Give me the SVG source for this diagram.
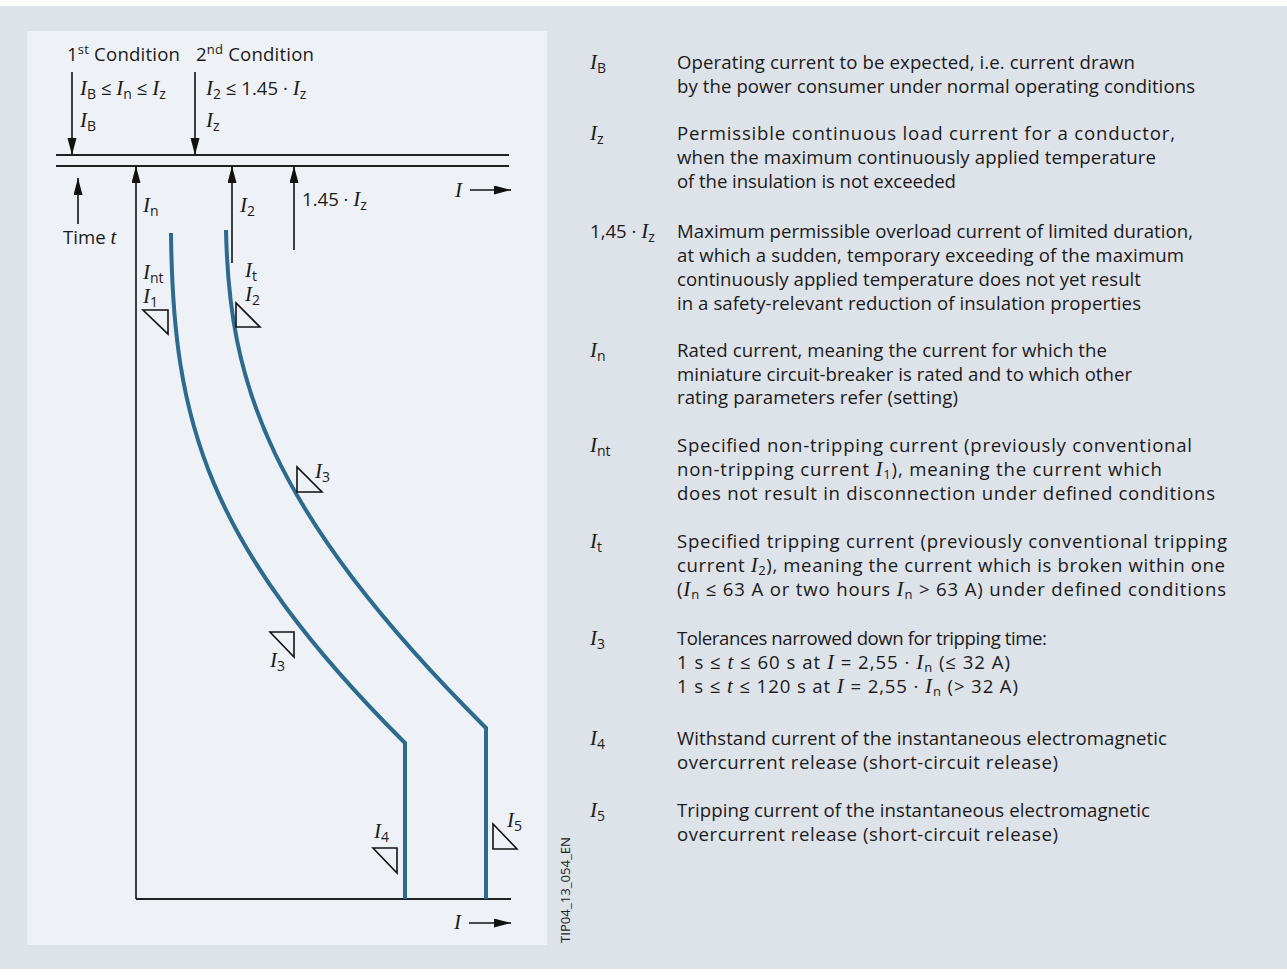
<svg xmlns="http://www.w3.org/2000/svg" width="1287" height="975" viewBox="0 0 1287 975">
<defs>
<style>
.s{font-family:"Open Sans","Liberation Sans",sans-serif;font-size:18.6px;fill:#1a1a1a}
.i{font-family:"Liberation Serif",serif;font-style:italic;font-size:21px}
.b{font-size:14px}
.bs{font-size:13px}
.sup{font-size:13px}
.ax{stroke:#222;stroke-width:2;fill:none}
.ar{stroke:#111;stroke-width:1.6;fill:none}
.cv{stroke:#2c6a8e;stroke-width:4;fill:none}
.tri{stroke:#111;stroke-width:1.6;fill:none;stroke-linejoin:miter}
</style>
<marker id="ah" markerUnits="userSpaceOnUse" markerWidth="18" markerHeight="10" refX="17" refY="4.5" orient="auto">
<path d="M0,0 L17,4.5 L0,9 z" fill="#111"/>
</marker>
</defs>
<rect x="0" y="0" width="1287" height="975" fill="#ffffff"/>
<rect x="0" y="6" width="1287" height="963" fill="#dee2e9"/>
<rect x="27" y="31" width="520" height="914" fill="#eef2f6"/>

<g id="axes">
<line class="ax" x1="56" y1="155" x2="509" y2="155"/>
<line class="ax" x1="56" y1="166" x2="509" y2="166"/>
<line class="ax" x1="136" y1="899" x2="511" y2="899"/>
</g>

<g id="connectors">
<line class="ar" x1="72" y1="72" x2="72" y2="155" marker-end="url(#ah)"/>
<line class="ar" x1="195" y1="72" x2="195" y2="155" marker-end="url(#ah)"/>
<line class="ar" x1="78" y1="224" x2="78" y2="178" marker-end="url(#ah)"/>
<line class="ar" x1="136" y1="899" x2="136" y2="166" marker-end="url(#ah)"/>
<line class="ar" x1="232" y1="263" x2="232" y2="166" marker-end="url(#ah)"/>
<line class="ar" x1="294" y1="250" x2="294" y2="166" marker-end="url(#ah)"/>
<line class="ar" x1="470" y1="190" x2="511" y2="190" marker-end="url(#ah)"/>
<line class="ar" x1="469" y1="923" x2="511" y2="923" marker-end="url(#ah)"/>
</g>

<g id="curve-nontripping">
<path class="cv" d="M171,233 C173,420 205,543 405,743 L405,899"/>
</g>
<g id="curve-tripping">
<path class="cv" d="M226,230 C229,380 266,508 486,728 L486,899"/>
</g>

<g id="tolerance-marks">
<path class="tri" d="M143,310 L168,310 L168,334 Z"/>
<path class="tri" d="M236,303 L236,327 L260,327 Z"/>
<path class="tri" d="M297,467 L297,492 L322,492 Z"/>
<path class="tri" d="M270,632 L294,632 L294,657 Z"/>
<path class="tri" d="M373,848 L397,848 L397,873 Z"/>
<path class="tri" d="M493,824 L493,849 L517,849 Z"/>
</g>

<g id="chart-labels" class="s">
<text x="67" y="61" textLength="113">1<tspan class="sup" dy="-7">st</tspan><tspan dy="7"> Condition</tspan></text>
<text x="196" y="61" textLength="118">2<tspan class="sup" dy="-7">nd</tspan><tspan dy="7"> Condition</tspan></text>
<text x="80" y="95"><tspan class="i">I</tspan><tspan class="b" dy="4">B</tspan><tspan dy="-4"> ≤ </tspan><tspan class="i">I</tspan><tspan class="b" dy="4">n</tspan><tspan dy="-4"> ≤ </tspan><tspan class="i">I</tspan><tspan class="b" dy="4">z</tspan></text>
<text x="80" y="127"><tspan class="i">I</tspan><tspan class="b" dy="4">B</tspan></text>
<text x="206" y="95"><tspan class="i">I</tspan><tspan class="b" dy="4">2</tspan><tspan dy="-4"> ≤ 1.45 · </tspan><tspan class="i">I</tspan><tspan class="b" dy="4">z</tspan></text>
<text x="206" y="127"><tspan class="i">I</tspan><tspan class="b" dy="4">z</tspan></text>
<text x="63" y="244">Time <tspan class="i">t</tspan></text>
<text x="143" y="212"><tspan class="i">I</tspan><tspan class="b" dy="4">n</tspan></text>
<text x="240" y="212"><tspan class="i">I</tspan><tspan class="b" dy="4">2</tspan></text>
<text x="302" y="206">1.45 · <tspan class="i">I</tspan><tspan class="b" dy="4">z</tspan></text>
<text x="455" y="197" class="i">I</text>
<text x="454" y="929" class="i">I</text>
<text x="143" y="279"><tspan class="i">I</tspan><tspan class="b" dy="4">nt</tspan></text>
<text x="143" y="303"><tspan class="i">I</tspan><tspan class="b" dy="4">1</tspan></text>
<text x="245" y="277"><tspan class="i">I</tspan><tspan class="b" dy="4">t</tspan></text>
<text x="245" y="301"><tspan class="i">I</tspan><tspan class="b" dy="4">2</tspan></text>
<text x="315" y="478"><tspan class="i">I</tspan><tspan class="b" dy="4">3</tspan></text>
<text x="270" y="667"><tspan class="i">I</tspan><tspan class="b" dy="4">3</tspan></text>
<text x="374" y="838"><tspan class="i">I</tspan><tspan class="b" dy="4">4</tspan></text>
<text x="507" y="827"><tspan class="i">I</tspan><tspan class="b" dy="4">5</tspan></text>
</g>

<text transform="translate(570,943) rotate(-90)" font-family="'Open Sans','Liberation Sans',sans-serif" font-size="12.5" fill="#222" textLength="106" lengthAdjust="spacingAndGlyphs">TIP04_13_054_EN</text>

<g id="legend" class="s">
<g id="leg-IB">
<text x="590" y="69"><tspan class="i">I</tspan><tspan class="b" dy="4">B</tspan></text>
<text x="677" y="69" textLength="458">Operating current to be expected, i.e. current drawn</text>
<text x="677" y="93" textLength="518">by the power consumer under normal operating conditions</text>
</g>
<g id="leg-Iz">
<text x="590" y="140"><tspan class="i">I</tspan><tspan class="b" dy="4">z</tspan></text>
<text x="677" y="140" textLength="498">Permissible continuous load current for a conductor,</text>
<text x="677" y="164" textLength="479">when the maximum continuously applied temperature</text>
<text x="677" y="188" textLength="279">of the insulation is not exceeded</text>
</g>
<g id="leg-145Iz">
<text x="590" y="238">1,45 · <tspan class="i">I</tspan><tspan class="b" dy="4">z</tspan></text>
<text x="677" y="238" textLength="516">Maximum permissible overload current of limited duration,</text>
<text x="677" y="262" textLength="507">at which a sudden, temporary exceeding of the maximum</text>
<text x="677" y="286" textLength="464">continuously applied temperature does not yet result</text>
<text x="677" y="310" textLength="464">in a safety-relevant reduction of insulation properties</text>
</g>
<g id="leg-In">
<text x="590" y="357"><tspan class="i">I</tspan><tspan class="b" dy="4">n</tspan></text>
<text x="677" y="357" textLength="430">Rated current, meaning the current for which the</text>
<text x="677" y="381" textLength="455">miniature circuit-breaker is rated and to which other</text>
<text x="677" y="404" textLength="281">rating parameters refer (setting)</text>
</g>
<g id="leg-Int">
<text x="590" y="452"><tspan class="i">I</tspan><tspan class="b" dy="4">nt</tspan></text>
<text x="677" y="452" textLength="515">Specified non-tripping current (previously conventional</text>
<text x="677" y="476" textLength="485">non-tripping current <tspan class="i">I</tspan><tspan class="bs" dy="3">1</tspan><tspan dy="-3">), meaning the current which</tspan></text>
<text x="677" y="500" textLength="538">does not result in disconnection under defined conditions</text>
</g>
<g id="leg-It">
<text x="590" y="548"><tspan class="i">I</tspan><tspan class="b" dy="4">t</tspan></text>
<text x="677" y="548" textLength="550">Specified tripping current (previously conventional tripping</text>
<text x="677" y="572" textLength="548">current <tspan class="i">I</tspan><tspan class="bs" dy="3">2</tspan><tspan dy="-3">), meaning the current which is broken within one</tspan></text>
<text x="677" y="596" textLength="549">(<tspan class="i">I</tspan><tspan class="bs" dy="3">n</tspan><tspan dy="-3"> ≤ 63 A or two hours </tspan><tspan class="i">I</tspan><tspan class="bs" dy="3">n</tspan><tspan dy="-3"> &gt; 63 A) under defined conditions</tspan></text>
</g>
<g id="leg-I3">
<text x="590" y="645"><tspan class="i">I</tspan><tspan class="b" dy="4">3</tspan></text>
<text x="677" y="645" textLength="370">Tolerances narrowed down for tripping time:</text>
<text x="677" y="669" textLength="333">1 s ≤ <tspan class="i">t</tspan> ≤ 60 s at <tspan class="i">I</tspan> = 2,55 · <tspan class="i">I</tspan><tspan class="bs" dy="3">n</tspan><tspan dy="-3"> (≤ 32 A)</tspan></text>
<text x="677" y="693" textLength="341">1 s ≤ <tspan class="i">t</tspan> ≤ 120 s at <tspan class="i">I</tspan> = 2,55 · <tspan class="i">I</tspan><tspan class="bs" dy="3">n</tspan><tspan dy="-3"> (&gt; 32 A)</tspan></text>
</g>
<g id="leg-I4">
<text x="590" y="745"><tspan class="i">I</tspan><tspan class="b" dy="4">4</tspan></text>
<text x="677" y="745" textLength="490">Withstand current of the instantaneous electromagnetic</text>
<text x="677" y="769" textLength="381">overcurrent release (short-circuit release)</text>
</g>
<g id="leg-I5">
<text x="590" y="817"><tspan class="i">I</tspan><tspan class="b" dy="4">5</tspan></text>
<text x="677" y="817" textLength="473">Tripping current of the instantaneous electromagnetic</text>
<text x="677" y="841" textLength="381">overcurrent release (short-circuit release)</text>
</g>
</g>
</svg>
